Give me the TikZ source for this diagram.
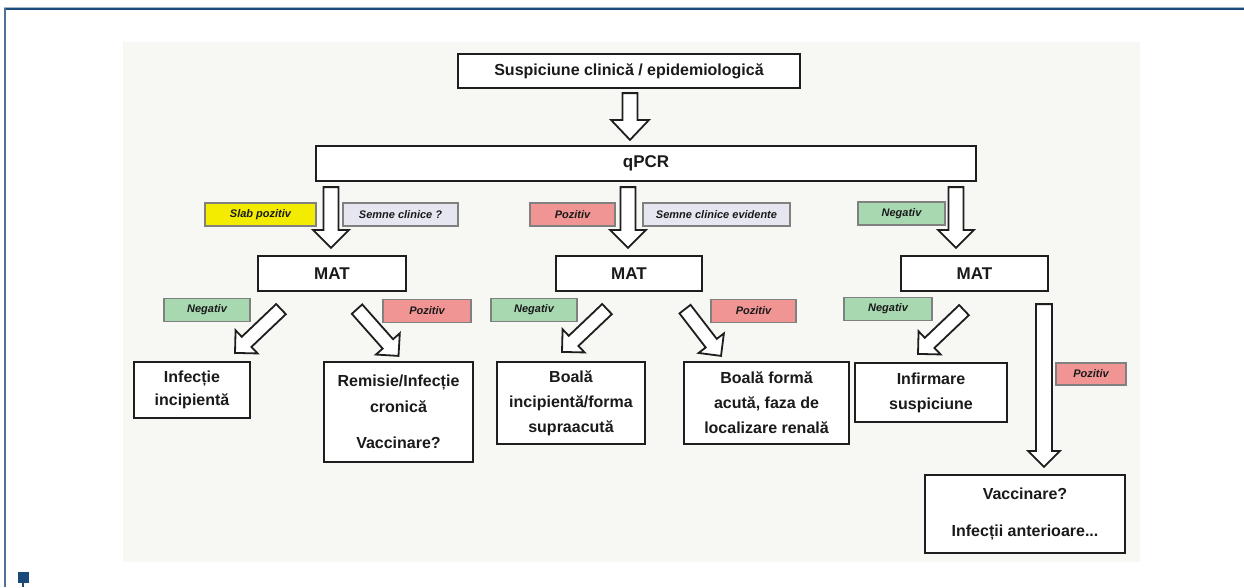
\documentclass[tikz,border=0pt]{standalone}
\usepackage{fontspec}
\setmainfont{Liberation Sans}
\usetikzlibrary{calc}
\definecolor{frameblue}{HTML}{1A4A7C}
\definecolor{frameside}{HTML}{4F7299}
\definecolor{panel}{HTML}{F7F7F4}
\definecolor{boxline}{HTML}{1E1E1E}
\definecolor{labline}{HTML}{808080}
\definecolor{labyellow}{HTML}{F4EC00}
\definecolor{lablav}{HTML}{E6E6F1}
\definecolor{labpink}{HTML}{F09494}
\definecolor{labgreen}{HTML}{A8D8B0}
\definecolor{txt}{HTML}{1A1A1A}
\def\blkA{7.5pt}\def\blkB{18pt}\def\blkH{18pt}
\tikzset{
  blk a/.code={\def\blkA{#1}},
  blk b/.code={\def\blkB{#1}},
  blk h/.code={\def\blkH{#1}},
  blk/.style={draw=boxline, line width=1.8pt, fill=white, line join=miter,
    to path={let \p1=(\tikztostart), \p2=(\tikztotarget),
      \n1={atan2(\y2-\y1,\x2-\x1)}, \n2={veclen(\x2-\x1,\y2-\y1)} in
      (\p1) ++(\n1+90:\blkA) -- ++(\n1:{\n2-\blkH}) -- ++(\n1+90:{\blkB-\blkA}) -- (\p2)
      -- ($(\p2)+(\n1+180:\blkH)+(\n1-90:\blkB)$) -- ++(\n1+90:{\blkB-\blkA})
      -- ++(\n1+180:{\n2-\blkH}) -- cycle}},
  box/.style={draw=boxline, line width=2.2pt, fill=white, align=center, inner sep=0pt,
    text=txt, font=\bfseries\fontsize{16}{25}\selectfont},
  head/.style={box, font=\bfseries\fontsize{17}{20}\selectfont},
  lab/.style={draw=labline, line width=1.1pt, inner sep=0pt, minimum height=23pt,
    text=txt, font=\bfseries\itshape\fontsize{11}{13}\selectfont},
}
\begin{document}
\begin{tikzpicture}[x=1pt,y=-1pt]
\useasboundingbox (0,0) rectangle (1244,587);
% frame and panel
\fill[panel] (123,42) rectangle (1140,562);
\draw[frameblue!40, line width=1pt] (4,7) -- (1244,7);
\draw[frameblue, line width=2pt] (4,9) -- (1244,9);
\draw[frameside, line width=2pt] (5,8) -- (5,587);
\fill[frameblue] (18,572) rectangle (29,583);
\draw[frameblue, line width=2pt] (23,583) -- (23,587);

% main boxes
\node[box, minimum width=342pt, minimum height=34pt] (susp) at (629,71) {Suspiciune clinică / epidemiologică};
\node[head, minimum width=660pt, minimum height=35pt] (qpcr) at (646,163.5) {qPCR};
\node[head, minimum width=148pt, minimum height=35pt] (mat1) at (332,273.5) {MAT};
\node[head, minimum width=146pt, minimum height=35pt] (mat2) at (629,273.5) {MAT};
\node[head, minimum width=147pt, minimum height=35pt] (mat3) at (974.5,273.5) {MAT};
\node[box, minimum width=116pt, minimum height=56pt, font=\bfseries\fontsize{16}{23}\selectfont] (inf1) at (192,390) {Infecție\\incipientă};
\node[box, minimum width=149pt, minimum height=100pt, font=\bfseries\fontsize{16}{26}\selectfont] (rem) at (398.5,412) {Remisie/Infecție\\cronică\\[10pt]Vaccinare?};
\node[box, minimum width=148pt, minimum height=82pt] (boala1) at (571,403) {Boală\\incipientă/forma\\supraacută};
\node[box, minimum width=165pt, minimum height=82pt] (boala2) at (766.5,403) {Boală formă\\acută, faza de\\localizare renală};
\node[box, minimum width=152pt, minimum height=59pt] (infirm) at (931,392.5) {Infirmare\\suspiciune};
\node[box, minimum width=200pt, minimum height=78pt] (vacc) at (1025,514) {Vaccinare?\\[12pt]Infecții anterioare...};

% labels
\node[lab, fill=labyellow, minimum width=111pt] (slab) at (260.5,214.5) {Slab pozitiv};
\node[lab, fill=lablav, minimum width=115pt] (semne1) at (400.5,214.5) {Semne clinice ?};
\node[lab, fill=labpink, minimum width=85pt] (poz1) at (572.5,214.5) {Pozitiv};
\node[lab, fill=lablav, minimum width=147pt] (semne2) at (716.5,214.5) {Semne clinice evidente};
\node[lab, fill=labgreen, minimum width=87pt] (neg1) at (901.5,213.5) {Negativ};
\node[lab, fill=labgreen, minimum width=86pt] (neg2) at (207,310) {Negativ};
\node[lab, fill=labpink, minimum width=88pt] (poz2) at (427,311) {Pozitiv};
\node[lab, fill=labgreen, minimum width=86pt] (neg3) at (534,310) {Negativ};
\node[lab, fill=labpink, minimum width=85pt] (poz3) at (753.5,311) {Pozitiv};
\node[lab, fill=labgreen, minimum width=88pt] (neg4) at (888,309) {Negativ};
\node[lab, fill=labpink, minimum width=70pt, minimum height=22pt] (poz4) at (1091,374) {Pozitiv};

% block arrows
\draw[blk, blk b=19pt, blk h=20pt] ($(susp.south)+(1,4)$) to ($(qpcr.north -| susp.south)+(1,-5)$);
\draw[blk] ($(qpcr.south -| mat1.north)+(-1,5)$) to ($(mat1.north)+(-1,-7)$);
\draw[blk] ($(qpcr.south -| mat2.north)+(-1,5)$) to ($(mat2.north)+(-1,-7)$);
\draw[blk] ($(qpcr.south -| mat3.north)+(-18.5,5)$) to ($(mat3.north)+(-18.5,-7)$);
\draw[blk, blk a=7pt, blk b=16pt, blk h=16pt] ($(mat1.south)+(-51,17)$) to ($(inf1.north)+(43,-8)$);
\draw[blk, blk a=7pt, blk b=16pt, blk h=16pt] ($(mat1.south)+(25,17)$) to ($(rem.north)+(0,-5)$);
\draw[blk, blk a=7pt, blk b=16pt, blk h=16pt] ($(mat2.south)+(-22,17)$) to ($(boala1.north)+(-9,-9)$);
\draw[blk, blk a=7pt, blk b=16pt, blk h=16pt] ($(mat2.south)+(56,17)$) to ($(boala2.north)+(-45.5,-5)$);
\draw[blk, blk a=7pt, blk b=16pt, blk h=16pt] ($(mat3.south)+(-10.5,18)$) to ($(infirm.north)+(-13,-8)$);
\draw[blk, blk a=8pt, blk b=16pt, blk h=16pt] ($(mat3.south)+(69.5,12)$) to ($(vacc.north)+(19,-7)$);
\end{tikzpicture}
\end{document}
